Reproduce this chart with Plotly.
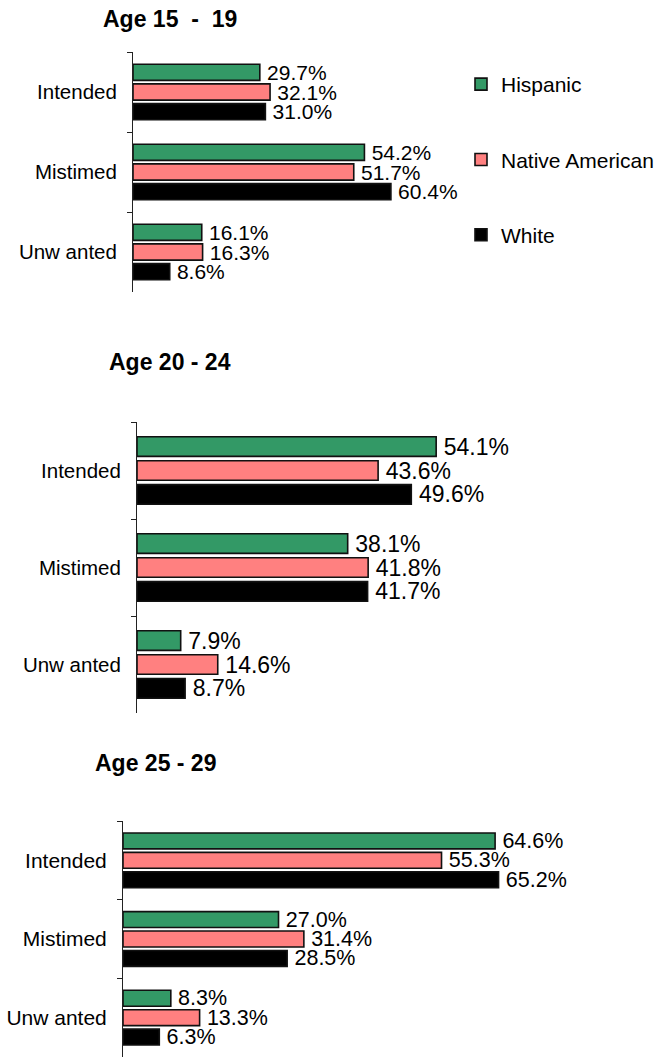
import plotly.graph_objects as go

# Pregnancy intention by age group and race/ethnicity (percent)
categories = ["Intended", "Mistimed", "Unw anted"]
races = ["Hispanic", "Native American", "White"]

age_15_19_hispanic = [29.7, 54.2, 16.1]
age_15_19_native = [32.1, 51.7, 16.3]
age_15_19_white = [31.0, 60.4, 8.6]

age_20_24_hispanic = [54.1, 38.1, 7.9]
age_20_24_native = [43.6, 41.8, 14.6]
age_20_24_white = [49.6, 41.7, 8.7]

age_25_29_hispanic = [64.6, 27.0, 8.3]
age_25_29_native = [55.3, 31.4, 13.3]
age_25_29_white = [65.2, 28.5, 6.3]

panel_titles = ["Age 15\u00a0 -\u00a0 19", "Age 20 - 24", "Age 25 - 29"]

W, H = 666, 1057
FONT = "Liberation Sans, Arial, sans-serif"
colors = {"Hispanic": "#339966", "Native American": "#FF8080", "White": "#000000"}

panels = [
    dict(values=[age_15_19_hispanic, age_15_19_native, age_15_19_white],
         x0=133, xrange=70, scale=4.27, top=52, bottom=292, tsize=21, csize=20.5,
         title_xy=(170, 19)),
    dict(values=[age_20_24_hispanic, age_20_24_native, age_20_24_white],
         x0=137, xrange=70, scale=5.53, top=422, bottom=713, tsize=23, csize=20.5,
         title_xy=(170, 362)),
    dict(values=[age_25_29_hispanic, age_25_29_native, age_25_29_white],
         x0=123, xrange=80, scale=5.76, top=821, bottom=1057, tsize=21.5, csize=21,
         title_xy=(155, 763)),
]

fig = go.Figure()
annotations = []
layout_axes = {}

for i, p in enumerate(panels):
    n = "" if i == 0 else str(i + 1)
    xa, ya = "x" + n, "y" + n
    for race, vals in zip(races, p["values"]):
        fig.add_trace(go.Bar(
            y=categories, x=vals, orientation="h", name=race,
            xaxis=xa, yaxis=ya,
            marker=dict(color=colors[race], line=dict(color="#111111", width=1.6)),
            text=[f"\u2009{v:.1f}%" for v in vals], textposition="outside",
            textfont=dict(family=FONT, size=p["tsize"], color="#000000"),
            cliponaxis=False, constraintext="none",
            showlegend=(i == 0), legendgroup=race,
            hoverinfo="skip",
        ))
    x_end = p["x0"] + p["scale"] * p["xrange"]
    layout_axes["xaxis" + n] = dict(
        domain=[p["x0"] / W, x_end / W], range=[0, p["xrange"]],
        visible=False, anchor=ya,
    )
    layout_axes["yaxis" + n] = dict(
        domain=[1 - p["bottom"] / H, 1 - p["top"] / H],
        autorange="reversed", type="category", anchor=xa,
        showline=True, linecolor="#222222", linewidth=1,
        ticks="outside", tickson="boundaries", ticklen=5, tickcolor="#222222",
        tickfont=dict(family=FONT, size=p["csize"], color="#000000"),
        ticklabelstandoff=11, showgrid=False, zeroline=False,
    )
    tx, ty = p["title_xy"]
    annotations.append(dict(
        text="<b>" + panel_titles[i] + "</b>", x=tx / W, y=1 - ty / H,
        xref="paper", yref="paper", xanchor="center", yanchor="middle",
        showarrow=False, font=dict(family=FONT, size=23, color="#000000"),
    ))

fig.update_layout(
    width=W, height=H, margin=dict(l=0, r=0, t=0, b=0),
    paper_bgcolor="white", plot_bgcolor="white",
    barmode="group", bargap=0.26, bargroupgap=0.18,
    annotations=annotations,
    legend=dict(x=461 / W, y=1 - 64 / H, xanchor="left", yanchor="top",
                font=dict(family=FONT, size=21, color="#000000"),
                tracegroupgap=45, traceorder="grouped", bgcolor="rgba(0,0,0,0)"),
    **layout_axes,
)

fig.write_html("out.html")
